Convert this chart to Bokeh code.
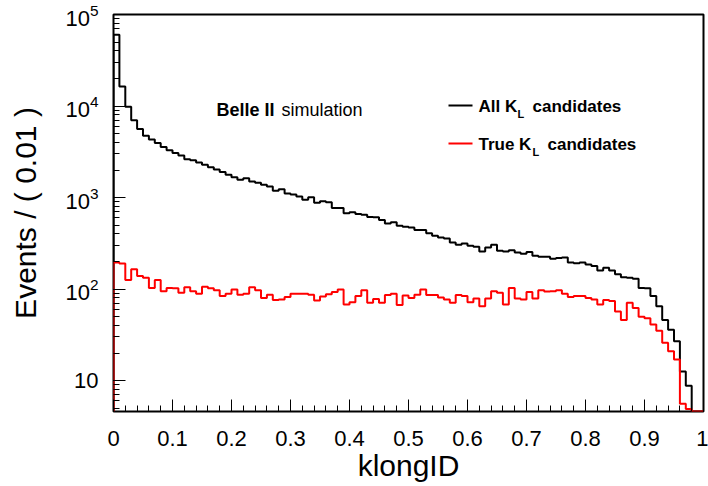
import numpy as np
from bokeh.plotting import figure
from bokeh.models import Range1d, LogTicker, LogTickFormatter, FixedTicker, Label, BoxAnnotation
from bokeh.embed import file_html
from bokeh.resources import INLINE

# ---- data -------------------------------------------------------------
bin_width = 0.01
n_bins = 100

all_kl = [60000, 16300, 9800, 7000, 5600, 4750, 4320, 3950, 3570, 3280,
          3070, 2890, 2620, 2560, 2410, 2290, 2140, 2020, 1900, 1780,
          1670, 1570, 1630, 1500, 1450, 1380, 1320, 1190, 1230, 1110,
          1080, 1030, 944, 1010, 875, 910, 890, 770, 770, 675,
          690, 660, 650, 615, 610, 570, 522, 536, 493, 480,
          471, 441, 441, 407, 382, 366, 357, 323, 305, 315,
          297, 290, 257, 285, 305, 262, 257, 266, 251, 244,
          255, 231, 225, 225, 215, 218, 221, 195, 191, 195,
          186, 179, 160, 171, 160, 145, 135, 133, 130, 103,
          102, 84, 65, 46, 36, 27, 12.6, 8.8, 0, 0]

true_kl = [195, 190, 126, 165, 139, 133, 103, 126, 95, 103,
           102, 91, 105, 95, 89, 106, 102, 97, 84, 89,
           99, 87, 89, 105, 97, 80, 87, 76, 77, 82,
           89, 89, 89, 87, 75, 83, 88, 93, 99, 68,
           72, 84, 97, 71, 78, 71, 86, 89, 67, 85,
           80, 87, 99, 86, 86, 81, 77, 71, 86, 84,
           72, 79, 65, 79, 95, 91, 68, 103, 79, 77,
           93, 79, 97, 94, 95, 97, 89, 82, 84, 84,
           80, 77, 68, 76, 74, 57, 46, 71, 62, 50,
           48, 41, 35, 26, 21, 17, 5.6, 4.9, 0, 0]

x_ticks = [0, 0.1, 0.2, 0.3, 0.4, 0.5, 0.6, 0.7, 0.8, 0.9, 1.0]
x_tick_labels = ["0", "0.1", "0.2", "0.3", "0.4", "0.5", "0.6", "0.7", "0.8", "0.9", "1"]
x_minor_step = 0.02

y_min, y_max = 4.6, 1e5

FONT = "Liberation Sans"

# ---- figure -----------------------------------------------------------
p = figure(width=708, height=486, output_backend="svg", toolbar_location=None,
           y_axis_type="log",
           x_range=Range1d(0, 1), y_range=Range1d(y_min, y_max),
           min_border_left=113, min_border_right=5, min_border_top=14, min_border_bottom=75)
p.background_fill_color = "white"
p.border_fill_color = "white"
p.outline_line_color = "black"
p.outline_line_width = 2
p.xgrid.visible = False
p.ygrid.visible = False

edges = np.arange(n_bins + 1) * bin_width


def step_outline(values):
    v = np.asarray(values, dtype=float)
    v = np.where(v > 0, v, y_min)  # empty bins sit on the axis floor
    xs = np.repeat(edges, 2)
    ys = np.concatenate([[y_min], np.repeat(v, 2), [y_min]])
    return xs, ys


xa, ya = step_outline(all_kl)
xt, yt = step_outline(true_kl)
p.line(xa, ya, line_color="black", line_width=2)
p.line(xt, yt, line_color="#ff0000", line_width=2)

# ---- axes -------------------------------------------------------------
xax = p.xaxis[0]
xax.ticker = FixedTicker(ticks=x_ticks,
                         minor_ticks=list(np.round(np.arange(0, 1.0001, x_minor_step), 4)))
xax.major_label_overrides = {t: l for t, l in zip(x_ticks, x_tick_labels)}
xax.axis_label = "klongID"

yax = p.yaxis[0]
yax.ticker = LogTicker(num_minor_ticks=10)
yax.formatter = LogTickFormatter()
yax.major_label_overrides = {10: "10"}
yax.axis_label = "Events / ( 0.01 )"

for ax in (xax, yax):
    ax.axis_line_color = None
    ax.major_tick_in = 12
    ax.major_tick_out = 0
    ax.minor_tick_in = 6
    ax.minor_tick_out = 0
    ax.major_tick_line_color = "black"
    ax.minor_tick_line_color = "black"
    ax.major_label_text_font = FONT
    ax.major_label_text_font_size = "22px"
    ax.major_label_text_color = "black"
    ax.axis_label_text_font = FONT
    ax.axis_label_text_font_size = "30px"
    ax.axis_label_text_font_style = "normal"
    ax.axis_label_text_color = "black"

xax.major_label_standoff = 19
xax.axis_label_standoff = 0
yax.major_label_standoff = 15
yax.axis_label_standoff = 20

# ---- annotations (screen units: from frame left / frame bottom) -------
def add_text(x, y, text, size, bold=False):
    p.add_layout(Label(x=x, y=y, x_units="screen", y_units="screen", text=text,
                       text_font=FONT, text_font_size=size,
                       text_font_style="bold" if bold else "normal",
                       text_color="black", text_baseline="alphabetic", text_align="left"))


add_text(103, 302, "Belle II", "18px", bold=True)
add_text(168, 302, "simulation", "18px")

# (text, text baseline, line centre, colour, subscript x, rest x)
legend_rows = [("All K", 305, 306, "black", 404, 419),
               ("True K", 267, 268, "#ff0000", 419, 434)]
for text, base, ly, color, xsub, xrest in legend_rows:
    p.add_layout(BoxAnnotation(left=335, right=359, bottom=ly - 1, top=ly + 1,
                               left_units="screen", right_units="screen",
                               top_units="screen", bottom_units="screen",
                               fill_color=color, fill_alpha=1, line_color=None))
    add_text(365, base, text, "17px", bold=True)
    add_text(xsub, base - 7, "L", "11px", bold=True)
    add_text(xrest, base, "candidates", "17px", bold=True)

open("out.html", "w").write(file_html(p, INLINE))
